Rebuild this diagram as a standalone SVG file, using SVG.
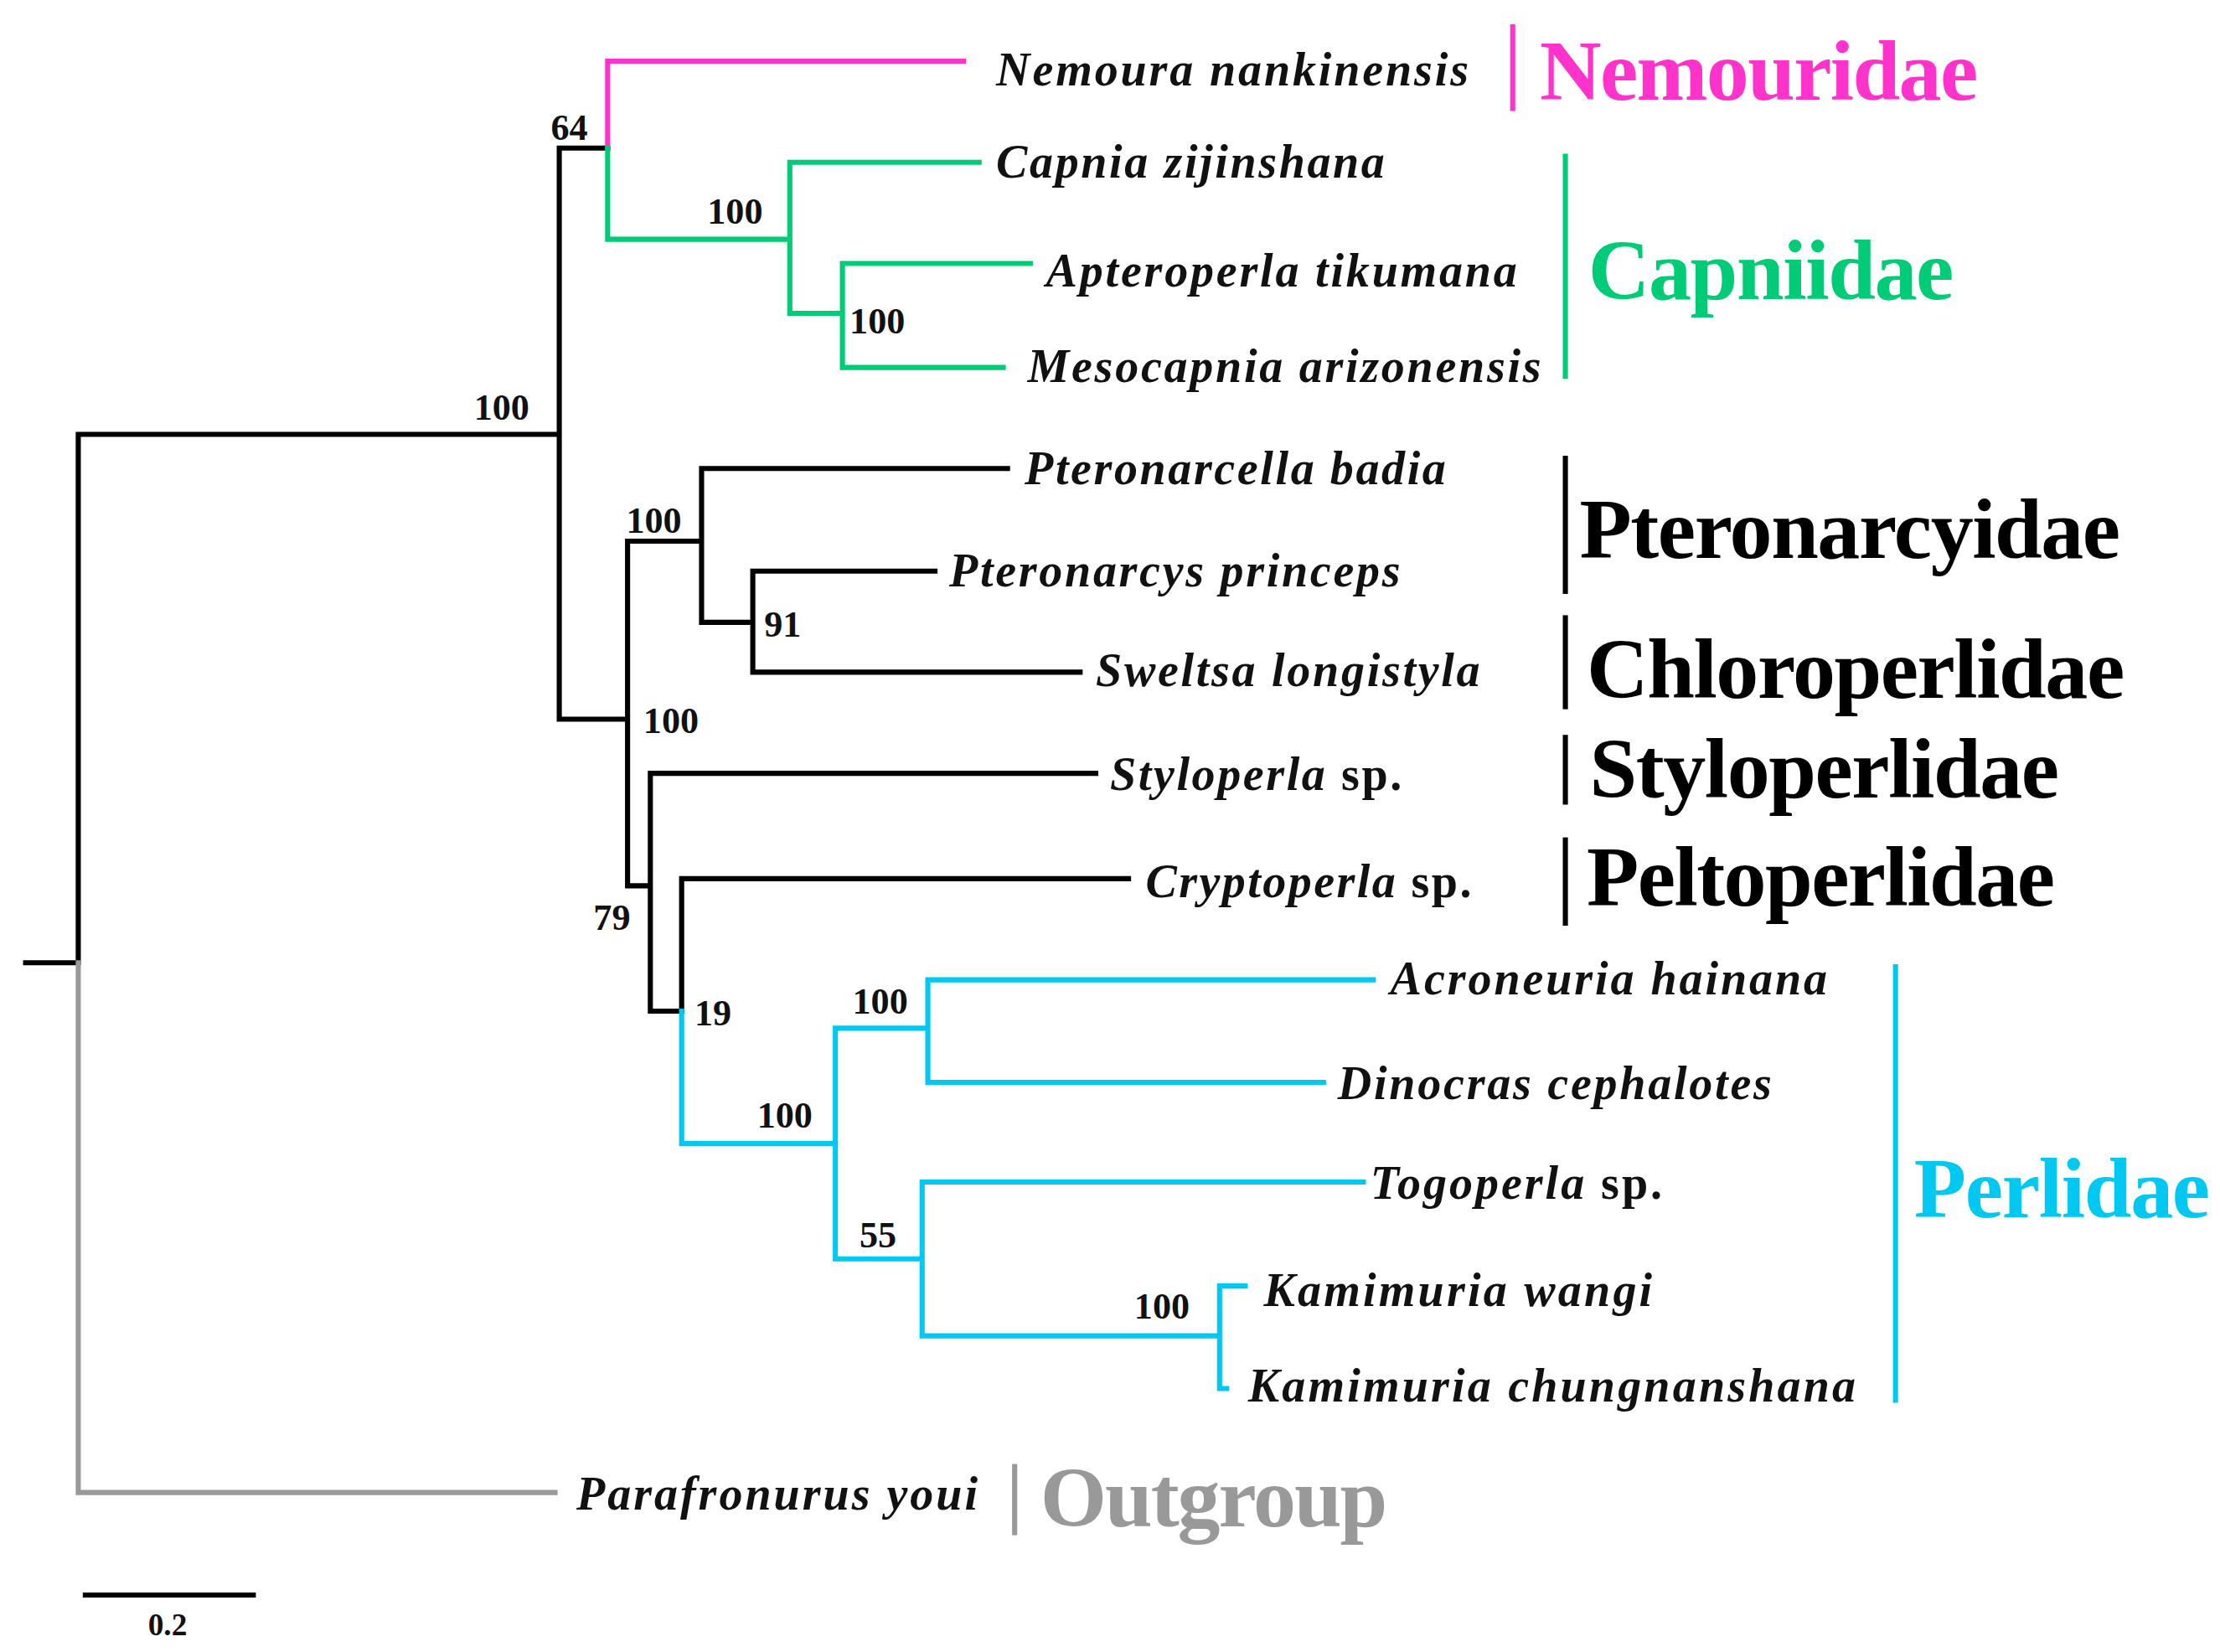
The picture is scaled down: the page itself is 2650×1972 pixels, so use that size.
<svg xmlns="http://www.w3.org/2000/svg" width="2650" height="1972" viewBox="0 0 2650 1972">
<style>
.b{fill:none;stroke-width:3.6;stroke-linecap:square}
.k{stroke:#000}.p{stroke:#ff33cc}.g{stroke:#00cc77}.c{stroke:#00c8f0}.y{stroke:#999}
.sp{font-family:"Liberation Serif",serif;font-style:italic;font-weight:bold;font-size:33px;fill:#111}
.n{font-family:"Liberation Serif",serif;font-weight:bold;font-size:26px;fill:#111}
.f{font-family:"Liberation Serif",serif;font-weight:bold;font-size:60px}
.bar{stroke-width:3.6}
</style>
<rect width="2650" height="1972" fill="#fff"/>
<g transform="scale(1.6987,1.7)">
<g id="connectors">
<path class="b k" d="M18,676H55V305H393M393,104V505M393,104H427M393,505H441M441,380V622H457M441,380H493M493,329V437M493,329H708M493,437H529M529,401V472M529,401H657M529,472H759M457,543V710M457,543H770M457,710H479M479,617V710M479,617H793"/>
<path class="b y" d="M55,676V1048H390"/>
<path class="b p" d="M427,104V43H677"/>
<path class="b g" d="M427,104V168H555M555,114V220M555,114H688M555,220H592M592,185V258M592,185H724M592,258H705"/>
<path class="b c" d="M479,710V803H587M587,722V884M587,722H652M652,688V760M652,688H965M652,760H930M587,884H648M648,830V938M648,830H958M648,938H857M857,903V975M857,903H875M857,975H862"/>
<path class="b k" d="M60,1120H178"/>
</g>
<g id="support">
<text class="n" x="387" y="98">64</text>
<text class="n" x="333" y="295">100</text>
<text class="n" x="497" y="157">100</text>
<text class="n" x="597" y="234">100</text>
<text class="n" x="440" y="374">100</text>
<text class="n" x="537" y="447">91</text>
<text class="n" x="452" y="515">100</text>
<text class="n" x="417" y="653">79</text>
<text class="n" x="488" y="720">19</text>
<text class="n" x="532" y="792">100</text>
<text class="n" x="599" y="712">100</text>
<text class="n" x="604" y="876">55</text>
<text class="n" x="797" y="926">100</text>
<text class="n" x="104" y="1148" style="font-size:22px">0.2</text>
</g>
<g id="taxa">
<text class="sp" x="700" y="60" textLength="332">Nemoura nankinensis</text>
<text class="sp" x="700" y="125" textLength="273">Capnia zijinshana</text>
<text class="sp" x="735" y="201" textLength="331">Apteroperla tikumana</text>
<text class="sp" x="722" y="268" textLength="361">Mesocapnia arizonensis</text>
<text class="sp" x="720" y="340" textLength="296">Pteronarcella badia</text>
<text class="sp" x="667" y="412" textLength="317">Pteronarcys princeps</text>
<text class="sp" x="770" y="482" textLength="270">Sweltsa longistyla</text>
<text class="sp" x="780" y="555" textLength="205">Styloperla<tspan font-style="normal"> sp.</tspan></text>
<text class="sp" x="805" y="630" textLength="229">Cryptoperla<tspan font-style="normal"> sp.</tspan></text>
<text class="sp" x="977" y="698" textLength="307">Acroneuria hainana</text>
<text class="sp" x="940" y="772" textLength="305">Dinocras cephalotes</text>
<text class="sp" x="963" y="842" textLength="205">Togoperla<tspan font-style="normal"> sp.</tspan></text>
<text class="sp" x="888" y="917" textLength="273">Kamimuria wangi</text>
<text class="sp" x="877" y="984" textLength="427">Kamimuria chungnanshana</text>
<text class="sp" x="405" y="1060" textLength="282">Parafronurus youi</text>
</g>
<g id="families">
<line class="bar" stroke="#ff33cc" x1="1063" y1="17" x2="1063" y2="78"/>
<text class="f" fill="#ff33cc" x="1082" y="70" textLength="308">Nemouridae</text>
<line class="bar" stroke="#00cc77" x1="1100" y1="108" x2="1100" y2="266"/>
<text class="f" fill="#00cc77" x="1116" y="210" textLength="257">Capniidae</text>
<line class="bar" stroke="#000" x1="1100" y1="320" x2="1100" y2="417"/>
<text class="f" fill="#000" x="1110" y="392" textLength="380">Pteronarcyidae</text>
<line class="bar" stroke="#000" x1="1100" y1="432" x2="1100" y2="498"/>
<text class="f" fill="#000" x="1115" y="490" textLength="378">Chloroperlidae</text>
<line class="bar" stroke="#000" x1="1100" y1="516" x2="1100" y2="565"/>
<text class="f" fill="#000" x="1117" y="560" textLength="330">Styloperlidae</text>
<line class="bar" stroke="#000" x1="1100" y1="588" x2="1100" y2="650"/>
<text class="f" fill="#000" x="1115" y="636" textLength="329">Peltoperlidae</text>
<line class="bar" stroke="#00c8f0" x1="1332" y1="677" x2="1332" y2="985"/>
<text class="f" fill="#00c8f0" x="1345" y="855" textLength="208">Perlidae</text>
<line class="bar" stroke="#999" x1="713" y1="1028" x2="713" y2="1078"/>
<text class="f" fill="#999" x="731" y="1072" textLength="244">Outgroup</text>
</g>
</g>
</svg>
